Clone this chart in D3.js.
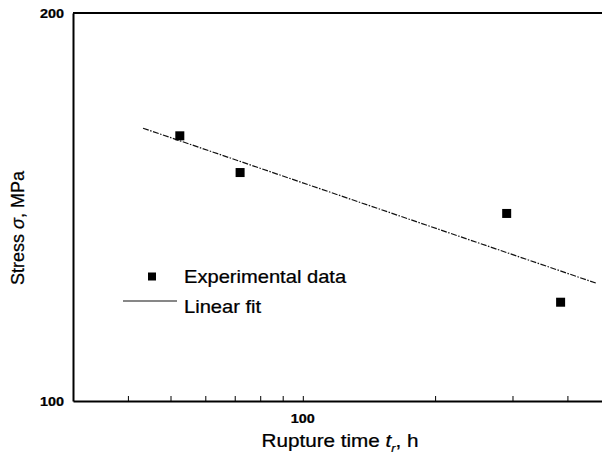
<!DOCTYPE html>
<html>
<head>
<meta charset="utf-8">
<script src="https://cdn.jsdelivr.net/npm/d3@7"></script>
<style>
  html, body { margin: 0; padding: 0; background: #fff; }
  svg { display: block; }
  text { font-family: "Liberation Sans", Arial, sans-serif; fill: #000; stroke: #000; stroke-width: 0.25px; }
</style>
</head>
<body>
<svg id="chart" width="602" height="466"></svg>
<script>
// ---- data ----
const rupTime = [52.5, 72, 291, 386];          // h
const stress  = [160.6, 150.4, 139.8, 119.3];  // MPa
const fitTime   = [43.3, 466];
const fitStress = [162.8, 123.4];
const xMinorTicks = [40, 50, 60, 70, 80, 90, 100, 200, 300, 400];
const xLabelTicks = [100];
const yLabelTicks = [100, 200];
const legendLabels = ["Experimental data", "Linear fit"];

const svg = d3.select("#chart");
const x = d3.scaleLog().domain([30, 500]).range([73, 610]);
const y = d3.scaleLog().domain([100, 200]).range([401, 13]);
const SX = 1.15; // horizontal stretch of text in the scan

function stretchedText(g, tx, ty, str, size, weight, anchor) {
  return g.append("g").attr("transform", `translate(${tx},${ty}) scale(${SX},1)`)
    .append("text")
    .attr("font-size", size)
    .attr("font-weight", weight || "normal")
    .attr("text-anchor", anchor || "start")
    .text(str);
}

// axes frame
const xAxis = d3.axisBottom(x).tickValues(xMinorTicks).tickSizeInner(-5).tickSizeOuter(0).tickFormat("");
const gx = svg.append("g").attr("transform", "translate(0,401)").call(xAxis);
gx.select(".domain").attr("stroke", "#000").attr("stroke-width", 2);
gx.selectAll(".tick line").attr("stroke", "#000").attr("stroke-width", 1);

const yAxis = d3.axisLeft(y).tickValues([]).tickSizeOuter(0);
const gy = svg.append("g").attr("transform", "translate(73,0)").call(yAxis);
gy.select(".domain").attr("stroke", "#000").attr("stroke-width", 2);

// top border
svg.append("line")
  .attr("x1", x.range()[0]).attr("x2", 602)
  .attr("y1", y(200)).attr("y2", y(200))
  .attr("stroke", "#000").attr("stroke-width", 2);

// tick labels
xLabelTicks.forEach(v => {
  stretchedText(svg, x(v), 423, String(v), 12.5, "bold", "middle");
});
yLabelTicks.forEach(v => {
  stretchedText(svg, 64, y(v) + 4.5, String(v), 12.5, "bold", "end");
});

// axis titles
const xt = svg.append("g").attr("transform", `translate(340,447) scale(${SX},1)`)
  .append("text").attr("font-size", 18).attr("text-anchor", "middle");
xt.append("tspan").text("Rupture time ");
xt.append("tspan").attr("font-style", "italic").text("t");
xt.append("tspan").attr("font-size", 11).attr("font-style", "italic").attr("dy", 5).text("r");
xt.append("tspan").attr("dy", -5).text(", h");

const yt = svg.append("g").attr("transform", `translate(24,228) rotate(-90)`)
  .append("text").attr("font-size", 18).attr("text-anchor", "middle");
yt.append("tspan").text("Stress ");
yt.append("tspan").attr("font-style", "italic").text("σ");
yt.append("tspan").text(", MPa");

// fit line
const fitData = fitTime.map((t, i) => [t, fitStress[i]]);
svg.append("path")
  .datum(fitData)
  .attr("fill", "none")
  .attr("stroke", "#111")
  .attr("stroke-width", 1.2)
  .attr("stroke-dasharray", "6,1.5,1.5,1.5")
  .attr("d", d3.line().x(d => x(d[0])).y(d => y(d[1])));

// data points
const ms = 9;
svg.append("g").selectAll("rect")
  .data(rupTime.map((t, i) => [t, stress[i]]))
  .join("rect")
  .attr("x", d => x(d[0]) - ms / 2)
  .attr("y", d => y(d[1]) - ms / 2)
  .attr("width", ms).attr("height", ms)
  .attr("fill", "#000");

// legend
const lg = svg.append("g");
lg.append("rect").attr("x", 148).attr("y", 272.5).attr("width", 8).attr("height", 8).attr("fill", "#000");
stretchedText(lg, 184, 283, legendLabels[0], 17.5);
lg.append("line").attr("x1", 123).attr("x2", 177).attr("y1", 301).attr("y2", 301)
  .attr("stroke", "#111").attr("stroke-width", 1.2);
stretchedText(lg, 184, 313, legendLabels[1], 17.5);
</script>
</body>
</html>
